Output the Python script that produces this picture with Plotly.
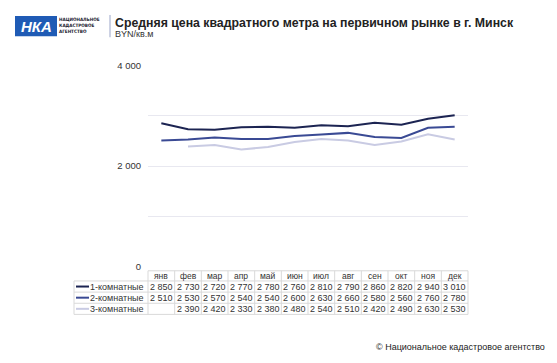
import plotly.graph_objects as go

months = ["янв", "фев", "мар", "апр", "май", "июн", "июл", "авг", "сен", "окт", "ноя", "дек"]
series_names = ["1-комнатные", "2-комнатные", "3-комнатные"]
s1 = [2850, 2730, 2720, 2770, 2780, 2760, 2810, 2790, 2860, 2820, 2940, 3010]
s2 = [2510, 2530, 2570, 2540, 2540, 2600, 2630, 2660, 2580, 2560, 2760, 2780]
s3 = [None, 2390, 2420, 2330, 2380, 2480, 2540, 2510, 2420, 2490, 2630, 2530]
y_ticks = [0, 1000, 2000, 3000, 4000]
y_ticklabels = ["0", "", "2 000", "", "4 000"]
colors = ["#1c2452", "#3a4a94", "#c9cbe3"]

OFF = 8  # default page body margin
W, H = 557 - OFF, 363 - OFF
FONT = "Liberation Sans, Arial, sans-serif"

def px(x):
    return (x - OFF) / W

def py(y):
    return 1 - (y - OFF) / H

x0, x1 = 148, 468
ytop, ybot = 61, 269

fig = go.Figure()
for name, vals, c in zip(series_names, [s1, s2, s3], colors):
    fig.add_trace(go.Scatter(x=list(range(len(months))), y=vals, mode="lines", name=name,
                             line=dict(color=c, width=2), connectgaps=False, showlegend=False))

fig.update_layout(
    width=W, height=H, margin=dict(l=0, r=0, t=0, b=0),
    paper_bgcolor="white", plot_bgcolor="white",
    font=dict(family=FONT, color="#333333", size=9),
    xaxis=dict(domain=[px(x0), px(x1)], range=[-0.5, len(months) - 0.5], showticklabels=False,
               showgrid=False, zeroline=False, showline=False, ticks=""),
    yaxis=dict(domain=[py(ybot), py(ytop)], range=[0, 4000], tickvals=y_ticks, ticktext=y_ticklabels,
               showgrid=True, gridcolor="#e8e8f0", gridwidth=1, zeroline=False, showline=False,
               ticks="", ticklabelstandoff=6, tickfont=dict(size=9.5, color="#333333")),
)

shapes = []
annotations = []
grid_c = "#d9d9d9"
colw = (x1 - x0) / len(months)
row_b = [273, 283.5, 295, 306.5, 318]
lab_x0 = 74

shapes.append(dict(type="line", xref="paper", yref="paper", x0=px(x0), x1=px(x1), y0=py(row_b[0]), y1=py(row_b[0]), line=dict(color=grid_c, width=1)))
for yb in row_b[1:]:
    shapes.append(dict(type="line", xref="paper", yref="paper", x0=px(lab_x0), x1=px(x1), y0=py(yb), y1=py(yb), line=dict(color=grid_c, width=1)))
for k in range(len(months) + 1):
    xx = x0 + k * colw
    shapes.append(dict(type="line", xref="paper", yref="paper", x0=px(xx), x1=px(xx), y0=py(row_b[0]), y1=py(row_b[-1]), line=dict(color=grid_c, width=1)))
shapes.append(dict(type="line", xref="paper", yref="paper", x0=px(lab_x0), x1=px(lab_x0), y0=py(row_b[1]), y1=py(row_b[-1]), line=dict(color=grid_c, width=1)))

for i, m in enumerate(months):
    annotations.append(dict(x=i, xref="x", y=py((row_b[0] + row_b[1]) / 2), yref="paper", text=m,
                            showarrow=False, font=dict(size=8.5, color="#333333"), xanchor="center", yanchor="middle"))

def fmt(v):
    return "" if v is None else f"{v:,}".replace(",", " ")

for r, (name, vals, c) in enumerate(zip(series_names, [s1, s2, s3], colors)):
    yc = (row_b[r + 1] + row_b[r + 2]) / 2
    shapes.append(dict(type="line", xref="paper", yref="paper", x0=px(76), x1=px(89), y0=py(yc), y1=py(yc), line=dict(color=c, width=2)))
    annotations.append(dict(x=px(88), xref="paper", y=py(yc), yref="paper", text=name, showarrow=False,
                            font=dict(size=9, color="#333333"), xanchor="left", yanchor="middle"))
    for i, v in enumerate(vals):
        annotations.append(dict(x=i, xref="x", y=py(yc), yref="paper", text=fmt(v), showarrow=False,
                                font=dict(size=9, color="#333333"), xanchor="center", yanchor="middle"))

# Header: logo, separator, title
shapes.append(dict(type="rect", xref="paper", yref="paper", x0=px(15), x1=px(57), y0=py(31), y1=py(10), fillcolor="#1f5bb5", line=dict(width=0)))
annotations.append(dict(x=px(36), xref="paper", y=py(20.5), yref="paper", text="<b><i>НКА</i></b>", showarrow=False,
                        font=dict(size=15, color="white", family=FONT), xanchor="center", yanchor="middle"))
for j, t in enumerate(["НАЦИОНАЛЬНОЕ", "КАДАСТРОВОЕ", "АГЕНТСТВО"]):
    annotations.append(dict(x=px(57), xref="paper", y=py(13.5 + j * 6.5), yref="paper", text=f"<b>{t}</b>", showarrow=False,
                            font=dict(size=4.6, color="#1a1a2e", family="DejaVu Sans Condensed, Liberation Sans Narrow, sans-serif"),
                            xanchor="left", yanchor="middle"))
shapes.append(dict(type="line", xref="paper", yref="paper", x0=px(110), x1=px(110), y0=py(9), y1=py(32), line=dict(color="#9aa5c8", width=1)))
annotations.append(dict(x=px(113), xref="paper", y=py(17), yref="paper", text="<b>Средняя цена квадратного метра на первичном рынке в г. Минск</b>",
                        showarrow=False, font=dict(size=12.3, color="#222222"), xanchor="left", yanchor="middle"))
annotations.append(dict(x=px(113), xref="paper", y=py(29), yref="paper", text="BYN/кв.м",
                        showarrow=False, font=dict(size=9, color="#333333"), xanchor="left", yanchor="middle"))
annotations.append(dict(x=px(547), xref="paper", y=py(352), yref="paper", text="© Национальное кадастровое агентство",
                        showarrow=False, font=dict(size=9, color="#222222"), xanchor="right", yanchor="middle"))

fig.update_layout(shapes=shapes, annotations=annotations)
fig.write_html("out.html")
